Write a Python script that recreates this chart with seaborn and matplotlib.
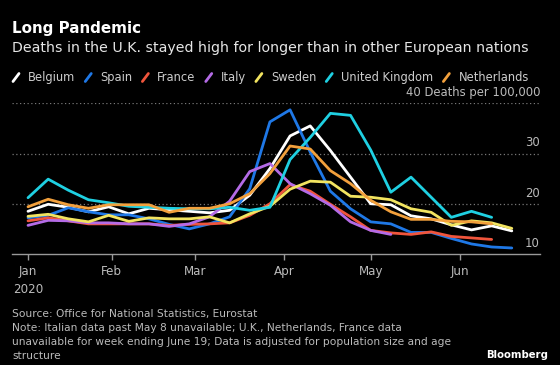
import pandas as pd
import matplotlib
matplotlib.use("Agg")
import matplotlib.pyplot as plt
from matplotlib.lines import Line2D
import seaborn as sns

# Weekly deaths per 100,000 (weeks ending Fridays, Jan 3 - Jun 19 2020)
week_ending = pd.date_range("2020-01-03", "2020-06-19", freq="7D")

belgium = [18.5, 19.9, 19.3, 18.4, 19.4, 18.0, 19.1, 18.8, 18.5, 18.2, 18.7, 21.7, 27.0,
           33.5, 35.5, 30.6, 25.3, 20.0, 19.8, 17.6, 17.0, 15.8, 14.8, 15.6, 14.6]
spain = [17.2, 17.7, 19.2, 18.4, 17.8, 17.8, 17.0, 15.9, 15.0, 16.0, 17.4, 23.0, 36.3,
         38.7, 30.3, 22.5, 19.0, 16.4, 16.0, 14.3, 14.3, 13.1, 12.0, 11.4, 11.2]
france = [16.6, 17.2, 16.6, 16.0, 16.0, 16.0, 16.0, 15.7, 15.9, 16.0, 16.2, 17.7, 20.0,
          23.8, 22.5, 19.9, 17.4, 14.7, 14.2, 13.9, 14.4, 13.5, 13.2, 12.9]
italy = [15.7, 16.7, 16.6, 16.2, 16.2, 16.0, 16.0, 15.5, 16.0, 17.4, 20.5, 26.4, 28.0,
         24.0, 22.0, 19.7, 16.4, 14.7, 13.9]
sweden = [17.5, 17.9, 17.0, 16.4, 17.7, 16.5, 17.2, 17.0, 17.0, 17.4, 16.2, 18.0, 19.5,
          22.9, 24.5, 24.3, 21.5, 21.3, 20.8, 19.0, 18.3, 15.7, 16.6, 16.2, 15.1]
uk = [21.2, 24.9, 22.7, 20.8, 20.2, 19.5, 19.3, 19.1, 19.0, 19.0, 19.3, 18.7, 19.3,
      28.8, 33.2, 38.0, 37.6, 30.7, 22.3, 25.3, 21.3, 17.3, 18.5, 17.3]
netherlands = [19.4, 20.9, 19.8, 19.1, 19.8, 19.8, 19.8, 18.3, 19.1, 19.1, 20.0, 22.0, 26.0,
               31.5, 30.9, 26.6, 24.0, 20.7, 18.4, 16.9, 16.9, 16.5, 16.4, 16.0]

countries = ["Belgium", "Spain", "France", "Italy", "Sweden", "United Kingdom", "Netherlands"]
series = [belgium, spain, france, italy, sweden, uk, netherlands]
colors = ["#ffffff", "#1f78e6", "#f0553c", "#b46be6", "#f2e460", "#1fd0e2", "#f2a03c"]

y_ticks = [10, 20, 30, 40]
y_labels = ["10", "20", "30", "40 Deaths per 100,000"]
x_ticks = pd.to_datetime(["2020-01-03", "2020-02-01", "2020-03-01", "2020-04-01",
                          "2020-05-01", "2020-06-01"])
x_labels = ["Jan\n2020", "Feb", "Mar", "Apr", "May", "Jun"]

# long-form table for seaborn
rows = []
for name, vals in zip(countries, series):
    for d, v in zip(week_ending, vals):
        rows.append({"week": d, "deaths": v, "country": name})
df = pd.DataFrame(rows)

sns.set_style("dark", {"axes.facecolor": "black", "figure.facecolor": "black"})
plt.rcParams["font.family"] = ["DejaVu Sans"]

W, H = 560, 365
fig = plt.figure(figsize=(W / 100, H / 100), dpi=100, facecolor="black")
ax = fig.add_axes([12 / W, 1 - 254 / H, 528 / W, (254 - 103.3) / H])
ax.set_facecolor("black")

sns.lineplot(data=df, x="week", y="deaths", hue="country", hue_order=countries,
             palette=colors, linewidth=2, legend=False, ax=ax)

ax.set_ylim(10, 40)
ax.set_xlim(pd.Timestamp("2019-12-28 10:30"), pd.Timestamp("2020-06-28 19:00"))

# dotted gridlines + right-side labels
for v, lab in zip(y_ticks, y_labels):
    if v > 10:
        ax.axhline(v, color="#777777", linestyle=(0, (1, 2)), linewidth=0.9, zorder=0)
    ax.annotate(lab, xy=(1, v), xycoords=("axes fraction", "data"), xytext=(0, 3),
                textcoords="offset points", ha="right", va="bottom",
                color="#bbbbbb", fontsize=8.4)
ax.set_yticks([])

for s in ["top", "right", "left"]:
    ax.spines[s].set_visible(False)
ax.spines["bottom"].set_color("#999999")
ax.spines["bottom"].set_linewidth(1)

ax.set_xticks(x_ticks)
ax.set_xticklabels(x_labels, color="#bbbbbb", fontsize=8.6, linespacing=1.5)
ax.tick_params(axis="x", length=4, width=1, color="#999999", pad=4, bottom=True)
ax.set_xlabel("")
ax.set_ylabel("")
ax.grid(False)


def fx(px):
    return px / W


def fy(py):
    return 1 - py / H


fig.text(fx(12), fy(29), "Long Pandemic", color="white", fontsize=10.9,
         fontweight="bold", va="center")
fig.text(fx(12), fy(48), "Deaths in the U.K. stayed high for longer than in other European nations",
         color="#e6e6e6", fontsize=10.2, va="center")

# legend row with slash markers
fig.canvas.draw()
renderer = fig.canvas.get_renderer()
x = 13
for name, c in zip(countries, colors):
    fig.add_artist(Line2D([fx(x), fx(x + 6)], [fy(81.5), fy(73.5)], color=c,
                          linewidth=2, transform=fig.transFigure))
    t = fig.text(fx(x + 15), fy(77.5), name, color="#cccccc", fontsize=8.3, va="center")
    w = t.get_window_extent(renderer).width
    x = x + 15 + w + 10

# footer
foot = dict(color="#bbbbbb", fontsize=7.7, va="center")
fig.text(fx(12), fy(314), "Source: Office for National Statistics, Eurostat", **foot)
fig.text(fx(12), fy(328), "Note: Italian data past May 8 unavailable; U.K., Netherlands, France data", **foot)
fig.text(fx(12), fy(342), "unavailable for week ending June 19; Data is adjusted for population size and age", **foot)
fig.text(fx(12), fy(356), "structure", **foot)
fig.text(fx(548), fy(355), "Bloomberg", color="white", fontsize=7.3,
         fontweight="bold", ha="right", va="center")

fig.savefig("out.png", dpi=100, facecolor="black")
